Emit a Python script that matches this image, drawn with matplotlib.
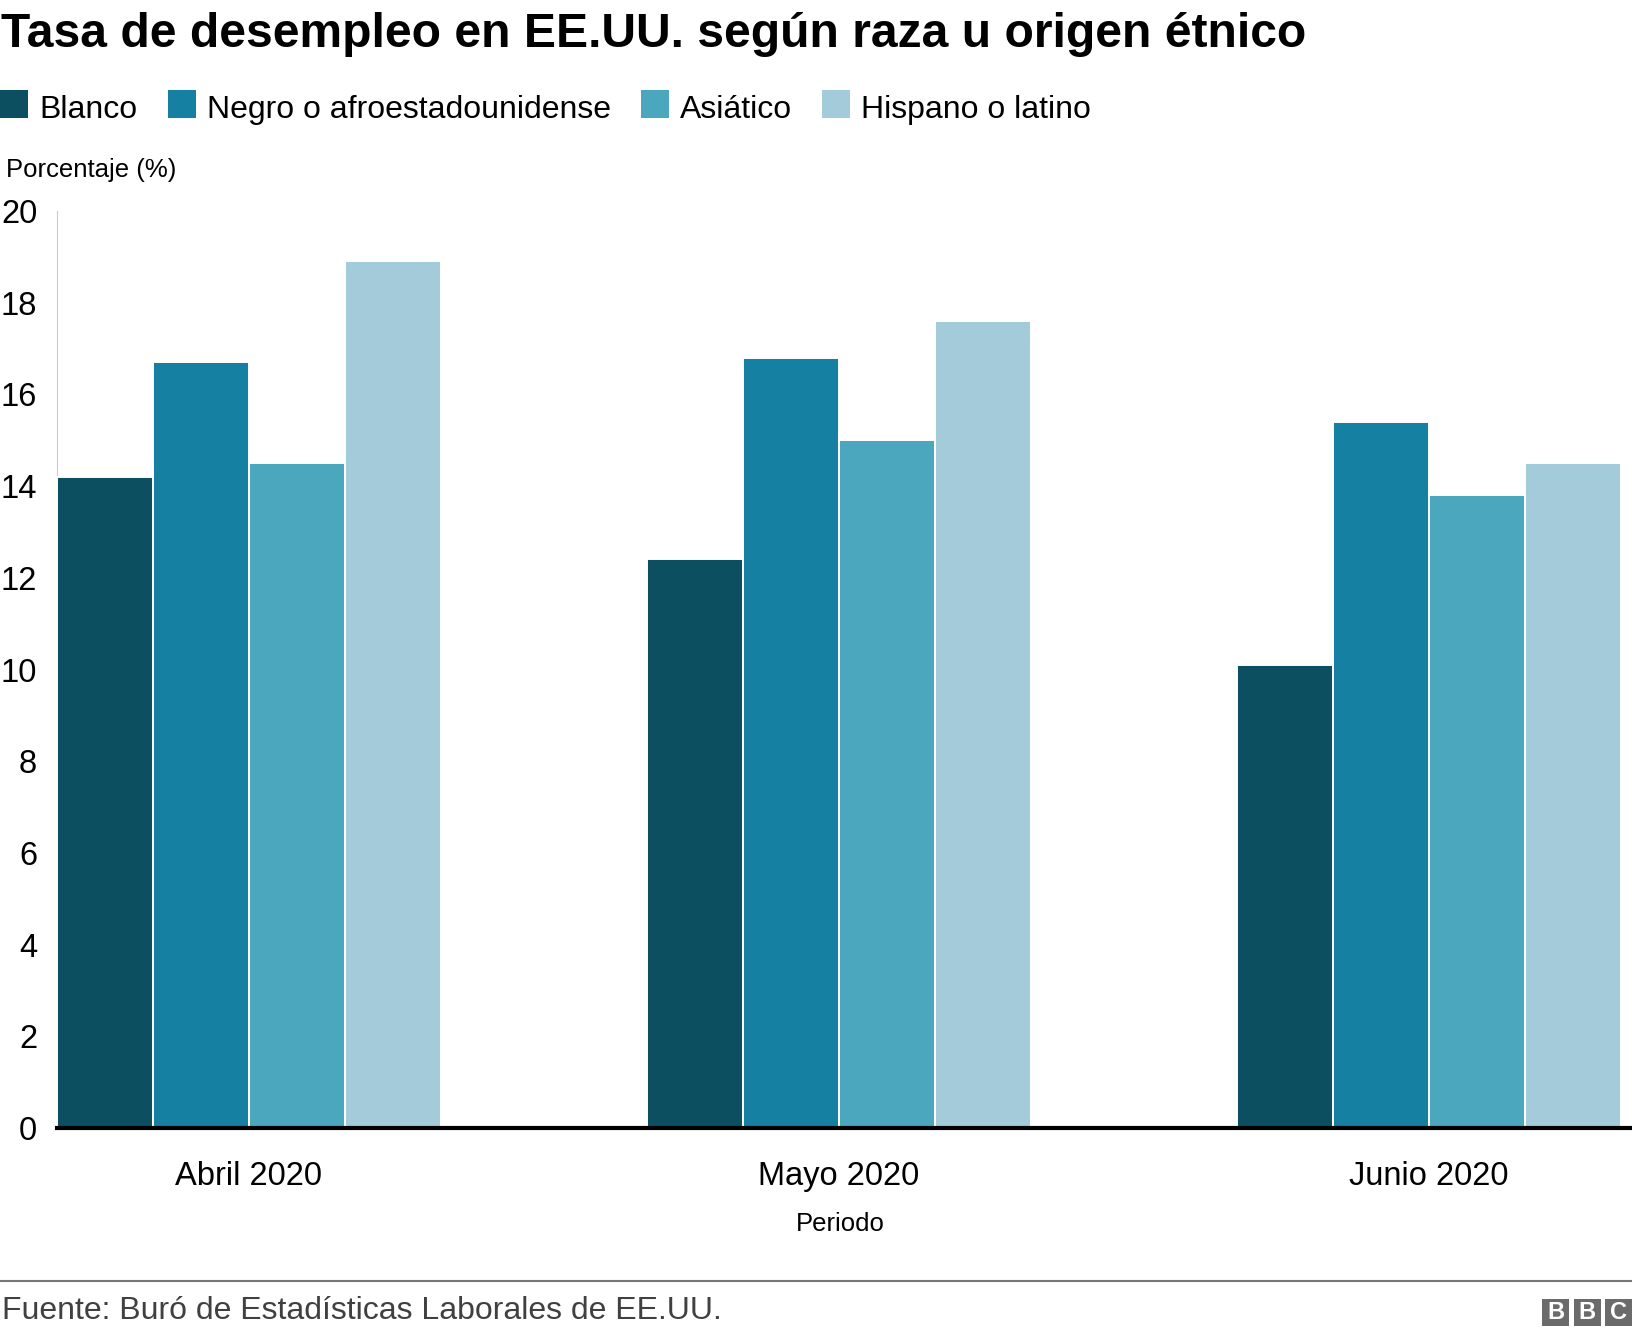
import matplotlib
matplotlib.use("Agg")
import matplotlib.pyplot as plt
import numpy as np
from matplotlib.patches import Rectangle

plt.rcParams['font.family'] = ['Liberation Sans', 'DejaVu Sans']

# ---- data ----
periods = ["Abril 2020", "Mayo 2020", "Junio 2020"]
series_names = ["Blanco", "Negro o afroestadounidense", "Asiático", "Hispano o latino"]
blanco = [14.2, 12.4, 10.1]
negro = [16.7, 16.8, 15.4]
asiatico = [14.5, 15.0, 13.8]
hispano = [18.9, 17.6, 14.5]
colors = ["#0b4f61", "#1580a2", "#4ba7be", "#a3cbda"]
yticks = [0, 2, 4, 6, 8, 10, 12, 14, 16, 18, 20]

W, H = 1632, 1336
fig = plt.figure(figsize=(W / 100, H / 100), dpi=100)

def fx(x):
    return x / W

def fy(y):
    return 1 - y / H

ax_left, ax_right, ax_top, ax_bottom = 57, 1632, 211, 1128
ax = fig.add_axes([fx(ax_left), fy(ax_bottom), (ax_right - ax_left) / W, (ax_bottom - ax_top) / H])

all_series = [blanco, negro, asiatico, hispano]
x = np.arange(len(periods))
bw = 0.1625
for i, (vals, c) in enumerate(zip(all_series, colors)):
    ax.bar(x + (i - 1.5) * bw, vals, width=bw, color=c, edgecolor="white",
           linewidth=1.4, zorder=2)

ax.set_xlim(-0.325, 2.344)
ax.set_ylim(0, 20)
ax.axhline(0, color="black", linewidth=3, zorder=3, clip_on=False)

for s in ["top", "right", "bottom"]:
    ax.spines[s].set_visible(False)
ax.spines["left"].set_color("#cccccc")
ax.spines["left"].set_linewidth(0.8)
ax.spines["left"].set_zorder(1)

ax.set_yticks(yticks)
ax.set_yticklabels([str(t) for t in yticks])
ax.tick_params(axis="y", length=0, pad=14.3, labelsize=23.5, labelcolor="black")
ax.set_xticks(x)
ax.set_xticklabels(periods)
ax.tick_params(axis="x", length=0, pad=24, labelsize=23.5, labelcolor="black")

# ---- title ----
fig.text(fx(1), fy(47), "Tasa de desempleo en EE.UU. según raza u origen étnico",
         fontsize=34.6, fontweight="bold", ha="left", va="baseline", color="black")

# ---- legend ----
sq_x = [0, 168, 641, 822]
for name, c, sx in zip(series_names, colors, sq_x):
    fig.add_artist(Rectangle((fx(sx), fy(118)), 28 / W, 28 / H, transform=fig.transFigure,
                             facecolor=c, edgecolor="none"))
    fig.text(fx(sx + 39), fy(118), name, fontsize=23, ha="left", va="baseline", color="black")

# ---- axis titles ----
fig.text(fx(6), fy(177), "Porcentaje (%)", fontsize=18.5, ha="left", va="baseline", color="black")
fig.text(fx(840), fy(1231), "Periodo", fontsize=18.5, ha="center", va="baseline", color="black")

# ---- footer ----
fig.add_artist(plt.Line2D([0, 1], [fy(1281), fy(1281)], transform=fig.transFigure,
                          color="#777777", linewidth=1.5))
fig.text(fx(2), fy(1319), "Fuente: Buró de Estadísticas Laborales de EE.UU.",
         fontsize=23, ha="left", va="baseline", color="#404040")

# BBC logo
for bx, letter in zip([1542, 1573.5, 1605], ["B", "B", "C"]):
    fig.add_artist(Rectangle((fx(bx), fy(1326)), 27 / W, 27 / H, transform=fig.transFigure,
                             facecolor="#6b6b6b", edgecolor="none"))
    fig.text(fx(bx + 13.5), fy(1312.5), letter, fontsize=17, fontweight="bold",
             ha="center", va="center", color="white")

fig.savefig("out.png", dpi=100, facecolor="white")
